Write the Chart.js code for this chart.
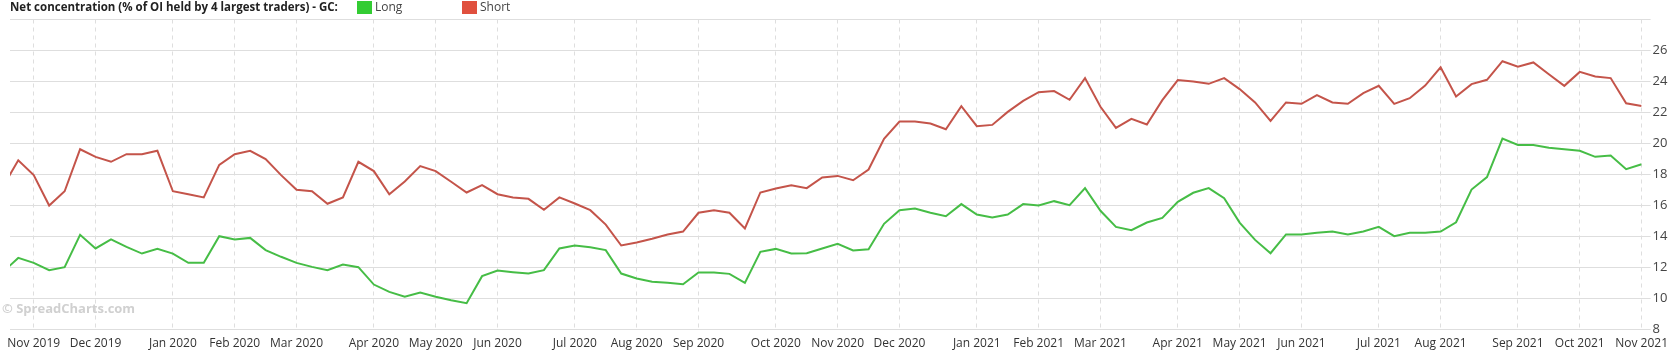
<!DOCTYPE html>
<html>
<head>
<meta charset="utf-8">
<script src="https://cdn.jsdelivr.net/npm/chart.js@4"></script>
<style>
  html, body { margin: 0; padding: 0; background: #fff; }
  canvas { display: block; }
</style>
</head>
<body>
<canvas id="chart" width="1678" height="359"></canvas>
<script>
// weekly COT values, first point is 22 Oct 2019 (week 0), last is 2 Nov 2021 (week 106)
const longVals = [11.7, 12.62, 12.30, 11.83, 12.02, 14.11, 13.23, 13.81, 13.33, 12.90,
  13.20, 12.90, 12.30, 12.30, 14.02, 13.81, 13.91, 13.12, 12.69, 12.30,
  12.04, 11.83, 12.19, 12.02, 10.90, 10.43, 10.11, 10.39, 10.11, 9.89,
  9.70, 11.44, 11.81, 11.70, 11.61, 11.83, 13.23, 13.42, 13.31, 13.12,
  11.61, 11.29, 11.08, 11.01, 10.92, 11.68, 11.68, 11.59, 11.01, 13.01,
  13.20, 12.90, 12.92, 13.23, 13.53, 13.10, 13.18, 14.82, 15.70, 15.81,
  15.53, 15.31, 16.09, 15.42, 15.23, 15.42, 16.09, 16.00, 16.28, 16.02,
  17.12, 15.66, 14.62, 14.41, 14.90, 15.20, 16.24, 16.82, 17.12, 16.47,
  14.90, 13.78, 12.92, 14.13, 14.13, 14.24, 14.32, 14.13, 14.32, 14.62,
  14.02, 14.24, 14.24, 14.32, 14.92, 17.03, 17.83, 20.32, 19.91, 19.91,
  19.72, 19.63, 19.53, 19.14, 19.23, 18.34, 18.66];

const shortVals = [17.2, 18.92, 17.96, 16.0, 16.92, 19.63, 19.14, 18.82, 19.31, 19.31,
  19.53, 16.92, 16.73, 16.52, 18.62, 19.31, 19.53, 18.99, 17.96, 17.01,
  16.92, 16.11, 16.52, 18.82, 18.22, 16.73, 17.55, 18.54, 18.22, 17.53,
  16.84, 17.31, 16.73, 16.52, 16.43, 15.72, 16.52, 16.13, 15.70, 14.77,
  13.42, 13.61, 13.85, 14.13, 14.32, 15.53, 15.70, 15.53, 14.52, 16.84,
  17.10, 17.31, 17.12, 17.81, 17.91, 17.63, 18.32, 20.30, 21.42, 21.42,
  21.29, 20.92, 22.41, 21.12, 21.20, 22.04, 22.75, 23.31, 23.38, 22.82,
  24.22, 22.37, 21.01, 21.59, 21.23, 22.80, 24.09, 24.00, 23.85, 24.22,
  23.51, 22.65, 21.46, 22.65, 22.56, 23.12, 22.65, 22.56, 23.25, 23.72,
  22.56, 22.92, 23.74, 24.92, 23.03, 23.83, 24.11, 25.31, 24.95, 25.23,
  24.47, 23.72, 24.62, 24.32, 24.22, 22.59, 22.42];

// first report week of each month
const tickLabels = ['Nov 2019', 'Dec 2019', 'Jan 2020', 'Feb 2020', 'Mar 2020', 'Apr 2020', 'May 2020',
  'Jun 2020', 'Jul 2020', 'Aug 2020', 'Sep 2020', 'Oct 2020', 'Nov 2020', 'Dec 2020', 'Jan 2021',
  'Feb 2021', 'Mar 2021', 'Apr 2021', 'May 2021', 'Jun 2021', 'Jul 2021', 'Aug 2021', 'Sep 2021',
  'Oct 2021', 'Nov 2021'];
const tickWeeks = [2, 6, 11, 15, 19, 24, 28, 32, 37, 41, 45, 50, 54, 58, 63, 67, 71, 76, 80, 84,
  89, 93, 98, 102, 106];

const yTicks = [8, 10, 12, 14, 16, 18, 20, 22, 24, 26, 28];

const title = 'Net concentration (% of OI held by 4 largest traders) - GC:';
const seriesNames = ['Long', 'Short'];
const legendColors = ['#33cc33', '#e0503e'];

const FONT = '"Open Sans", "DejaVu Sans", sans-serif';

// header (title + legend) and watermark
const decorations = {
  id: 'decorations',
  beforeDatasetsDraw(c) {
    const ctx = c.ctx;
    ctx.save();
    ctx.font = 'bold 13px ' + FONT;
    ctx.fillStyle = '#d0d0d0';
    ctx.textBaseline = 'middle';
    ctx.fillText('\u00A9 SpreadCharts.com', 2, 309);
    ctx.restore();
  },
  afterDraw(c) {
    const ctx = c.ctx;
    ctx.save();
    ctx.textBaseline = 'middle';
    ctx.font = 'bold 11.5px ' + FONT;
    ctx.fillStyle = '#222';
    ctx.fillText(title, 10, 7.5);
    ctx.font = '12px ' + FONT;
    seriesNames.forEach((name, i) => {
      const x = 357 + i * 105;
      ctx.fillStyle = legendColors[i];
      ctx.fillRect(x, 1, 15, 13);
      ctx.fillStyle = '#444';
      ctx.fillText(name, x + 18, 7.5);
    });
    ctx.restore();
  }
};

const chart = document.querySelector('#chart').getContext('2d');

new Chart(chart, {
  type: 'line',
  data: {
    datasets: [
      {
        label: seriesNames[0],
        data: longVals.map((v, i) => ({ x: i, y: v })),
        borderColor: '#46bd46',
        backgroundColor: legendColors[0],
        borderWidth: 2,
        pointRadius: 0,
        tension: 0,
        clip: 0
      },
      {
        label: seriesNames[1],
        data: shortVals.map((v, i) => ({ x: i, y: v })),
        borderColor: '#c4544a',
        backgroundColor: legendColors[1],
        borderWidth: 2,
        pointRadius: 0,
        tension: 0,
        clip: 0
      }
    ]
  },
  options: {
    responsive: false,
    animation: false,
    devicePixelRatio: 1,
    layout: { padding: { left: 10, top: 19.5, right: 0, bottom: 0 } },
    plugins: {
      legend: { display: false },
      tooltip: { enabled: false }
    },
    scales: {
      x: {
        type: 'linear',
        min: 0.466,
        max: 106,
        afterBuildTicks: s => { s.ticks = tickWeeks.map(v => ({ value: v })); },
        afterFit: s => { s.height = 29.5; },
        ticks: {
          autoSkip: false,
          maxRotation: 0,
          padding: 7,
          color: '#333',
          font: { family: FONT, size: 12 },
          callback: v => tickLabels[tickWeeks.indexOf(v)]
        },
        grid: { color: '#dedede', drawTicks: false, lineWidth: 1 },
        border: { display: false, dash: [4, 4] }
      },
      y: {
        position: 'right',
        min: 8,
        max: 28,
        afterBuildTicks: s => { s.ticks = yTicks.map(v => ({ value: v })); },
        afterFit: s => { s.width = 36.4; },
        ticks: {
          padding: 2,
          color: '#444',
          font: { family: FONT, size: 13 },
          callback: v => (v === 28 ? '' : v)
        },
        grid: { color: '#dedede', tickLength: 9, lineWidth: 1 },
        border: { display: false }
      }
    }
  },
  plugins: [decorations]
});
</script>
</body>
</html>
